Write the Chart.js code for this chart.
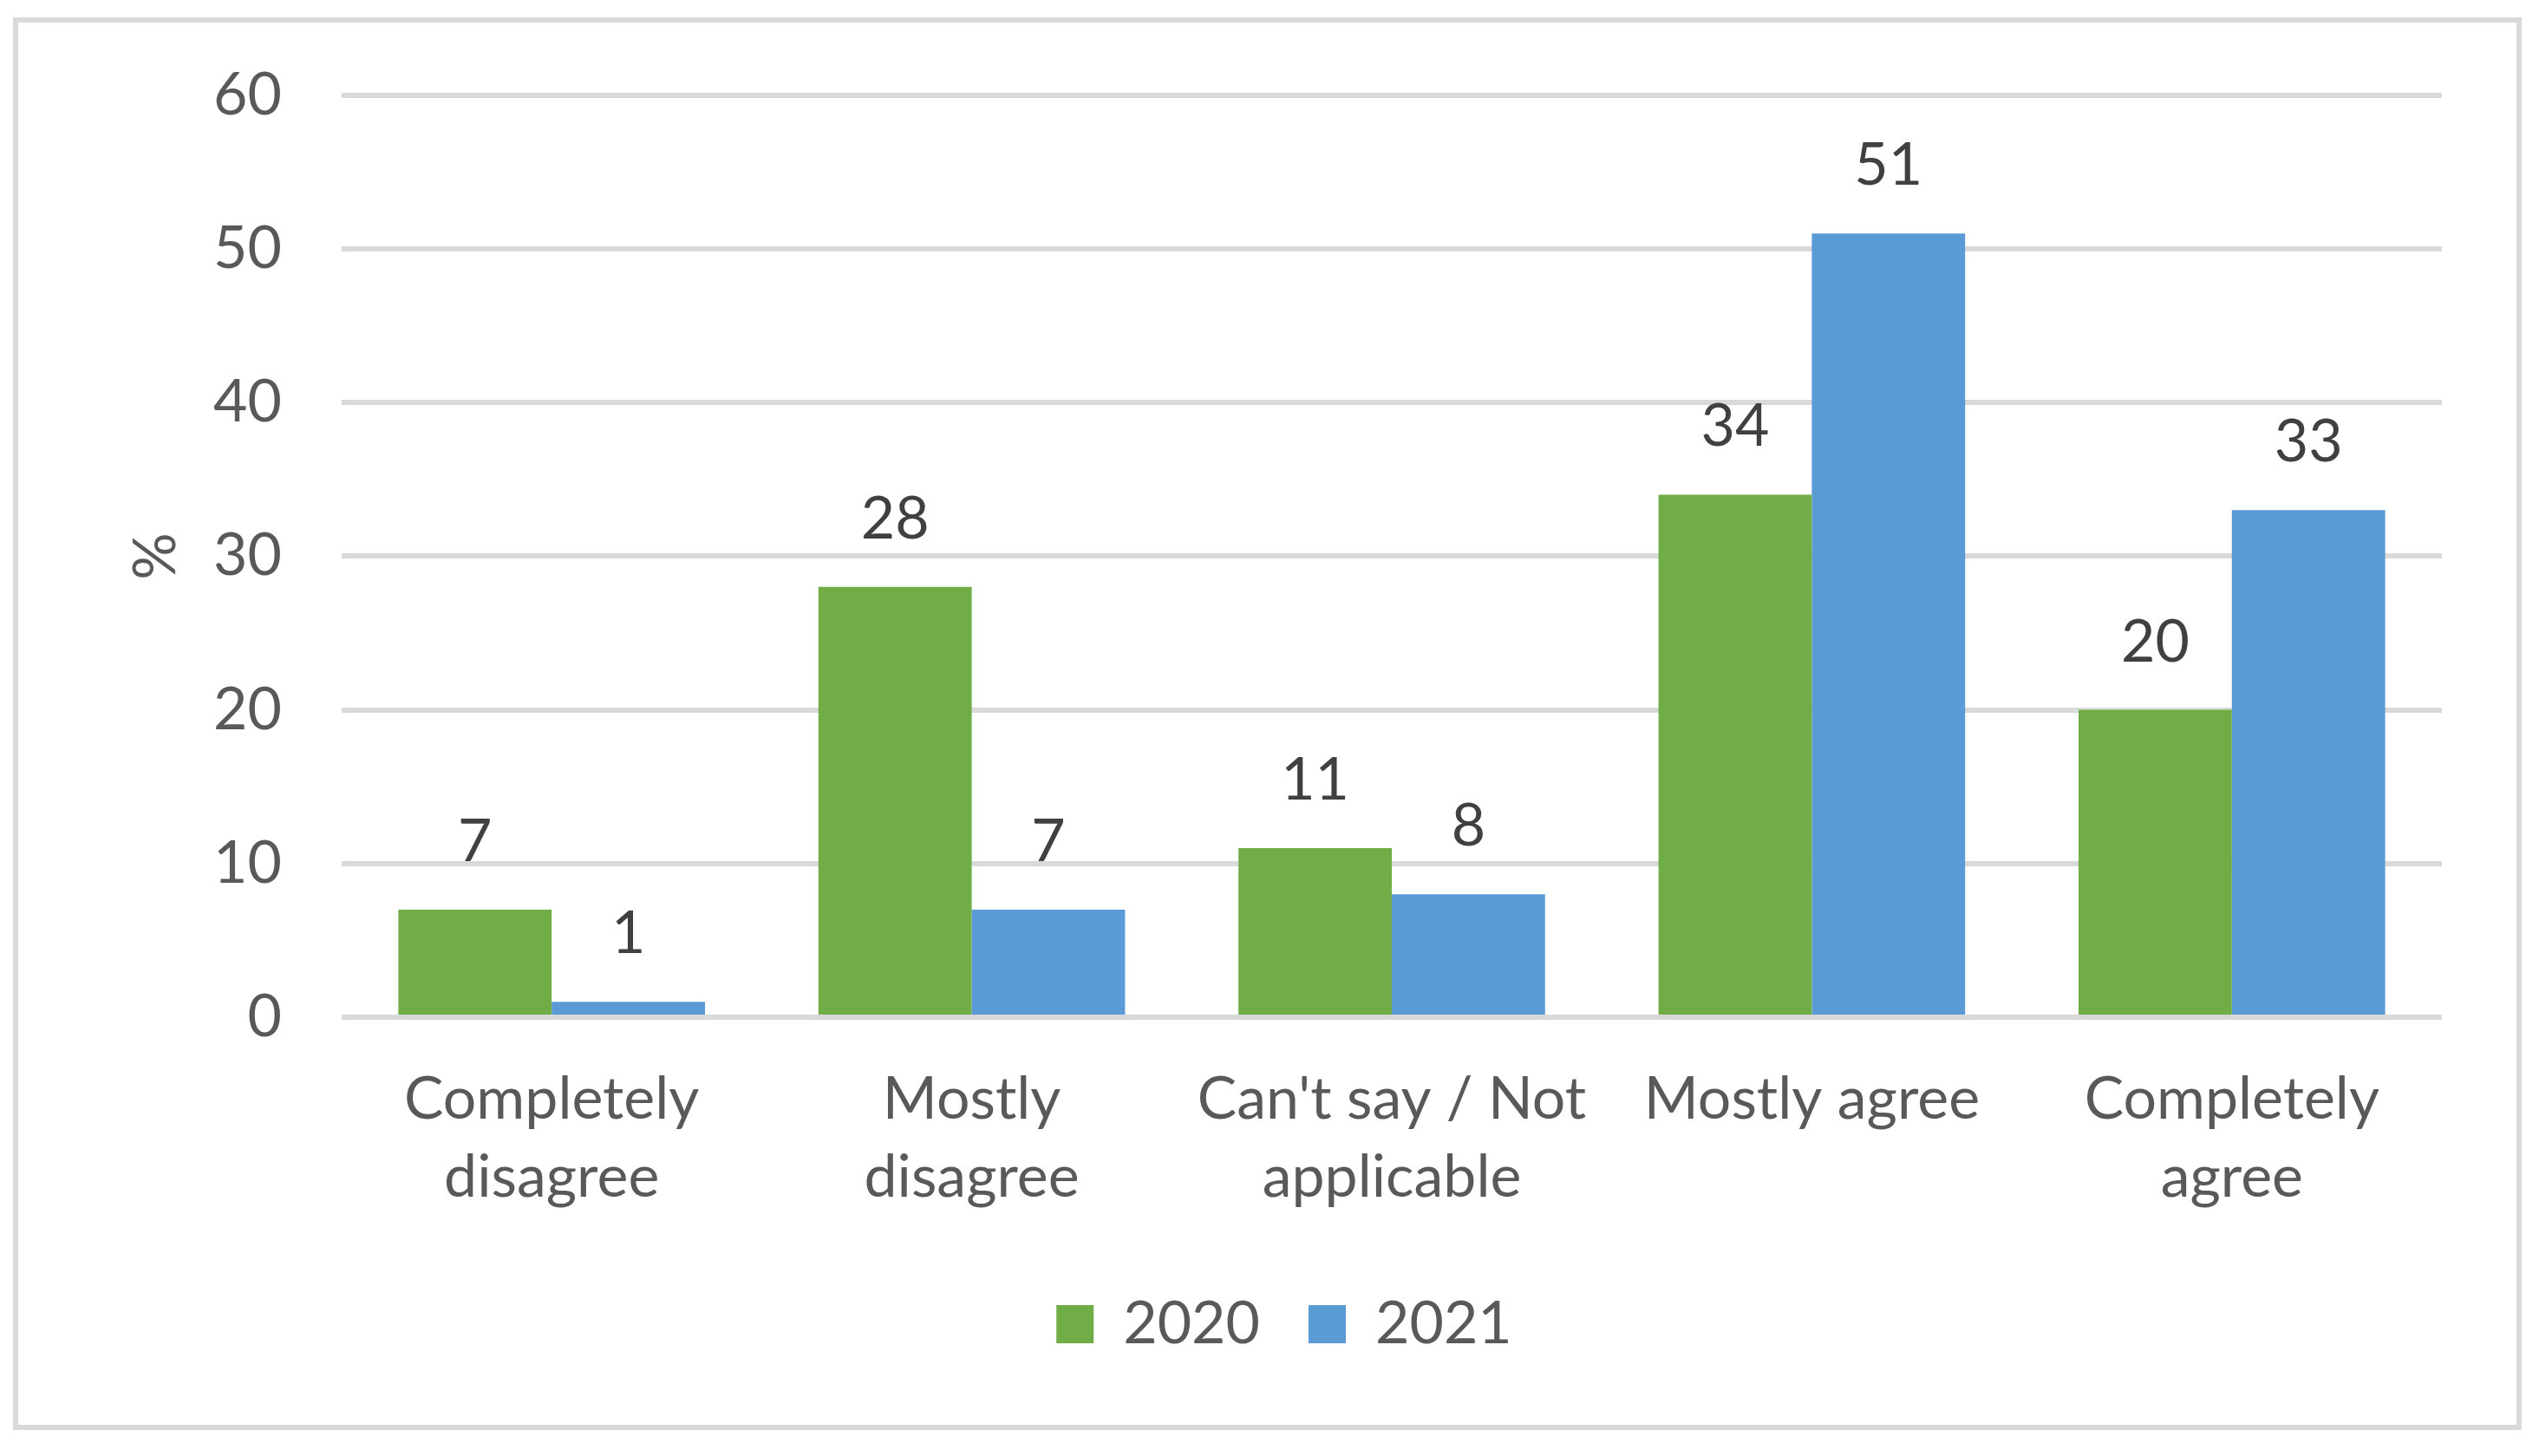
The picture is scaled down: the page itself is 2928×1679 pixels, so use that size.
<!DOCTYPE html>
<html>
<head>
<meta charset="utf-8">
<script src="https://cdn.jsdelivr.net/npm/chart.js@4.4.1/dist/chart.umd.min.js"></script>
<style>
  html, body { margin: 0; padding: 0; background: #fff; }
  canvas { display: block; }
</style>
</head>
<body>
<canvas id="chart" width="2928" height="1679" style="width:2928px;height:1679px"></canvas>
<script>
const categories = [
    ["Completely", "disagree"],
    ["Mostly", "disagree"],
    ["Can't say / Not", "applicable"],
    "Mostly agree",
    ["Completely", "agree"]
];
const values2020 = [7, 28, 11, 34, 20];
const values2021 = [1, 7, 8, 51, 33];
const yTicks = [0, 10, 20, 30, 40, 50, 60];

const FONT = "Lato, 'Open Sans', sans-serif";
const FS = 68;

// outer frame round the whole chart
const framePlugin = {
    id: 'frame',
    beforeDraw(chart) {
        const ctx = chart.ctx;
        ctx.save();
        ctx.fillStyle = '#ffffff';
        ctx.fillRect(0, 0, chart.width, chart.height);
        ctx.strokeStyle = '#d9d9d9';
        ctx.lineWidth = 6;
        ctx.strokeRect(18, 23, 2887, 1623);
        ctx.restore();
    }
};

// value labels above bars
const valueLabels = {
    id: 'valueLabels',
    afterDatasetsDraw(chart) {
        const ctx = chart.ctx;
        ctx.save();
        ctx.font = `${FS}px ${FONT}`;
        ctx.fillStyle = '#404040';
        ctx.textAlign = 'center';
        ctx.textBaseline = 'middle';
        chart.data.datasets.forEach((ds, i) => {
            chart.getDatasetMeta(i).data.forEach((bar, j) => {
                ctx.fillText(ds.data[j], bar.x, bar.y - 78);
            });
        });
        ctx.restore();
    }
};

new Chart(document.getElementById('chart'), {
    type: 'bar',
    data: {
        labels: categories,
        datasets: [
            { label: '2020', data: values2020, backgroundColor: '#70ad47' },
            { label: '2021', data: values2021, backgroundColor: '#5b9bd5' }
        ]
    },
    options: {
        responsive: false,
        animation: false,
        devicePixelRatio: 1,
        layout: { padding: { left: 146, top: 104, right: 112, bottom: 108 } },
        datasets: { bar: { categoryPercentage: 0.73, barPercentage: 1 } },
        plugins: {
            legend: {
                position: 'bottom',
                labels: {
                    boxWidth: 43,
                    boxHeight: 44,
                    padding: 56,
                    color: '#595959',
                    font: { family: FONT, size: FS }
                }
            },
            tooltip: { enabled: false }
        },
        scales: {
            x: {
                grid: { display: false, drawTicks: false },
                border: { display: false },
                ticks: {
                    color: '#595959',
                    padding: 50,
                    maxRotation: 0,
                    autoSkip: false,
                    font: { family: FONT, size: FS, lineHeight: 1.32 }
                },
                afterFit(scale) { scale.height = 264; }
            },
            y: {
                min: 0,
                max: 60,
                afterBuildTicks(scale) { scale.ticks = yTicks.map(v => ({ value: v })); },
                grid: { color: '#d9d9d9', lineWidth: 6, drawTicks: false },
                border: { display: false },
                ticks: {
                    color: '#595959',
                    padding: 69,
                    font: { family: FONT, size: FS }
                },
                title: {
                    display: true,
                    text: '%',
                    color: '#595959',
                    padding: 0,
                    font: { family: FONT, size: FS, lineHeight: 1 }
                },
                afterFit(scale) { scale.width = 394 - 146; }
            }
        }
    },
    plugins: [framePlugin, valueLabels]
});
</script>
</body>
</html>
